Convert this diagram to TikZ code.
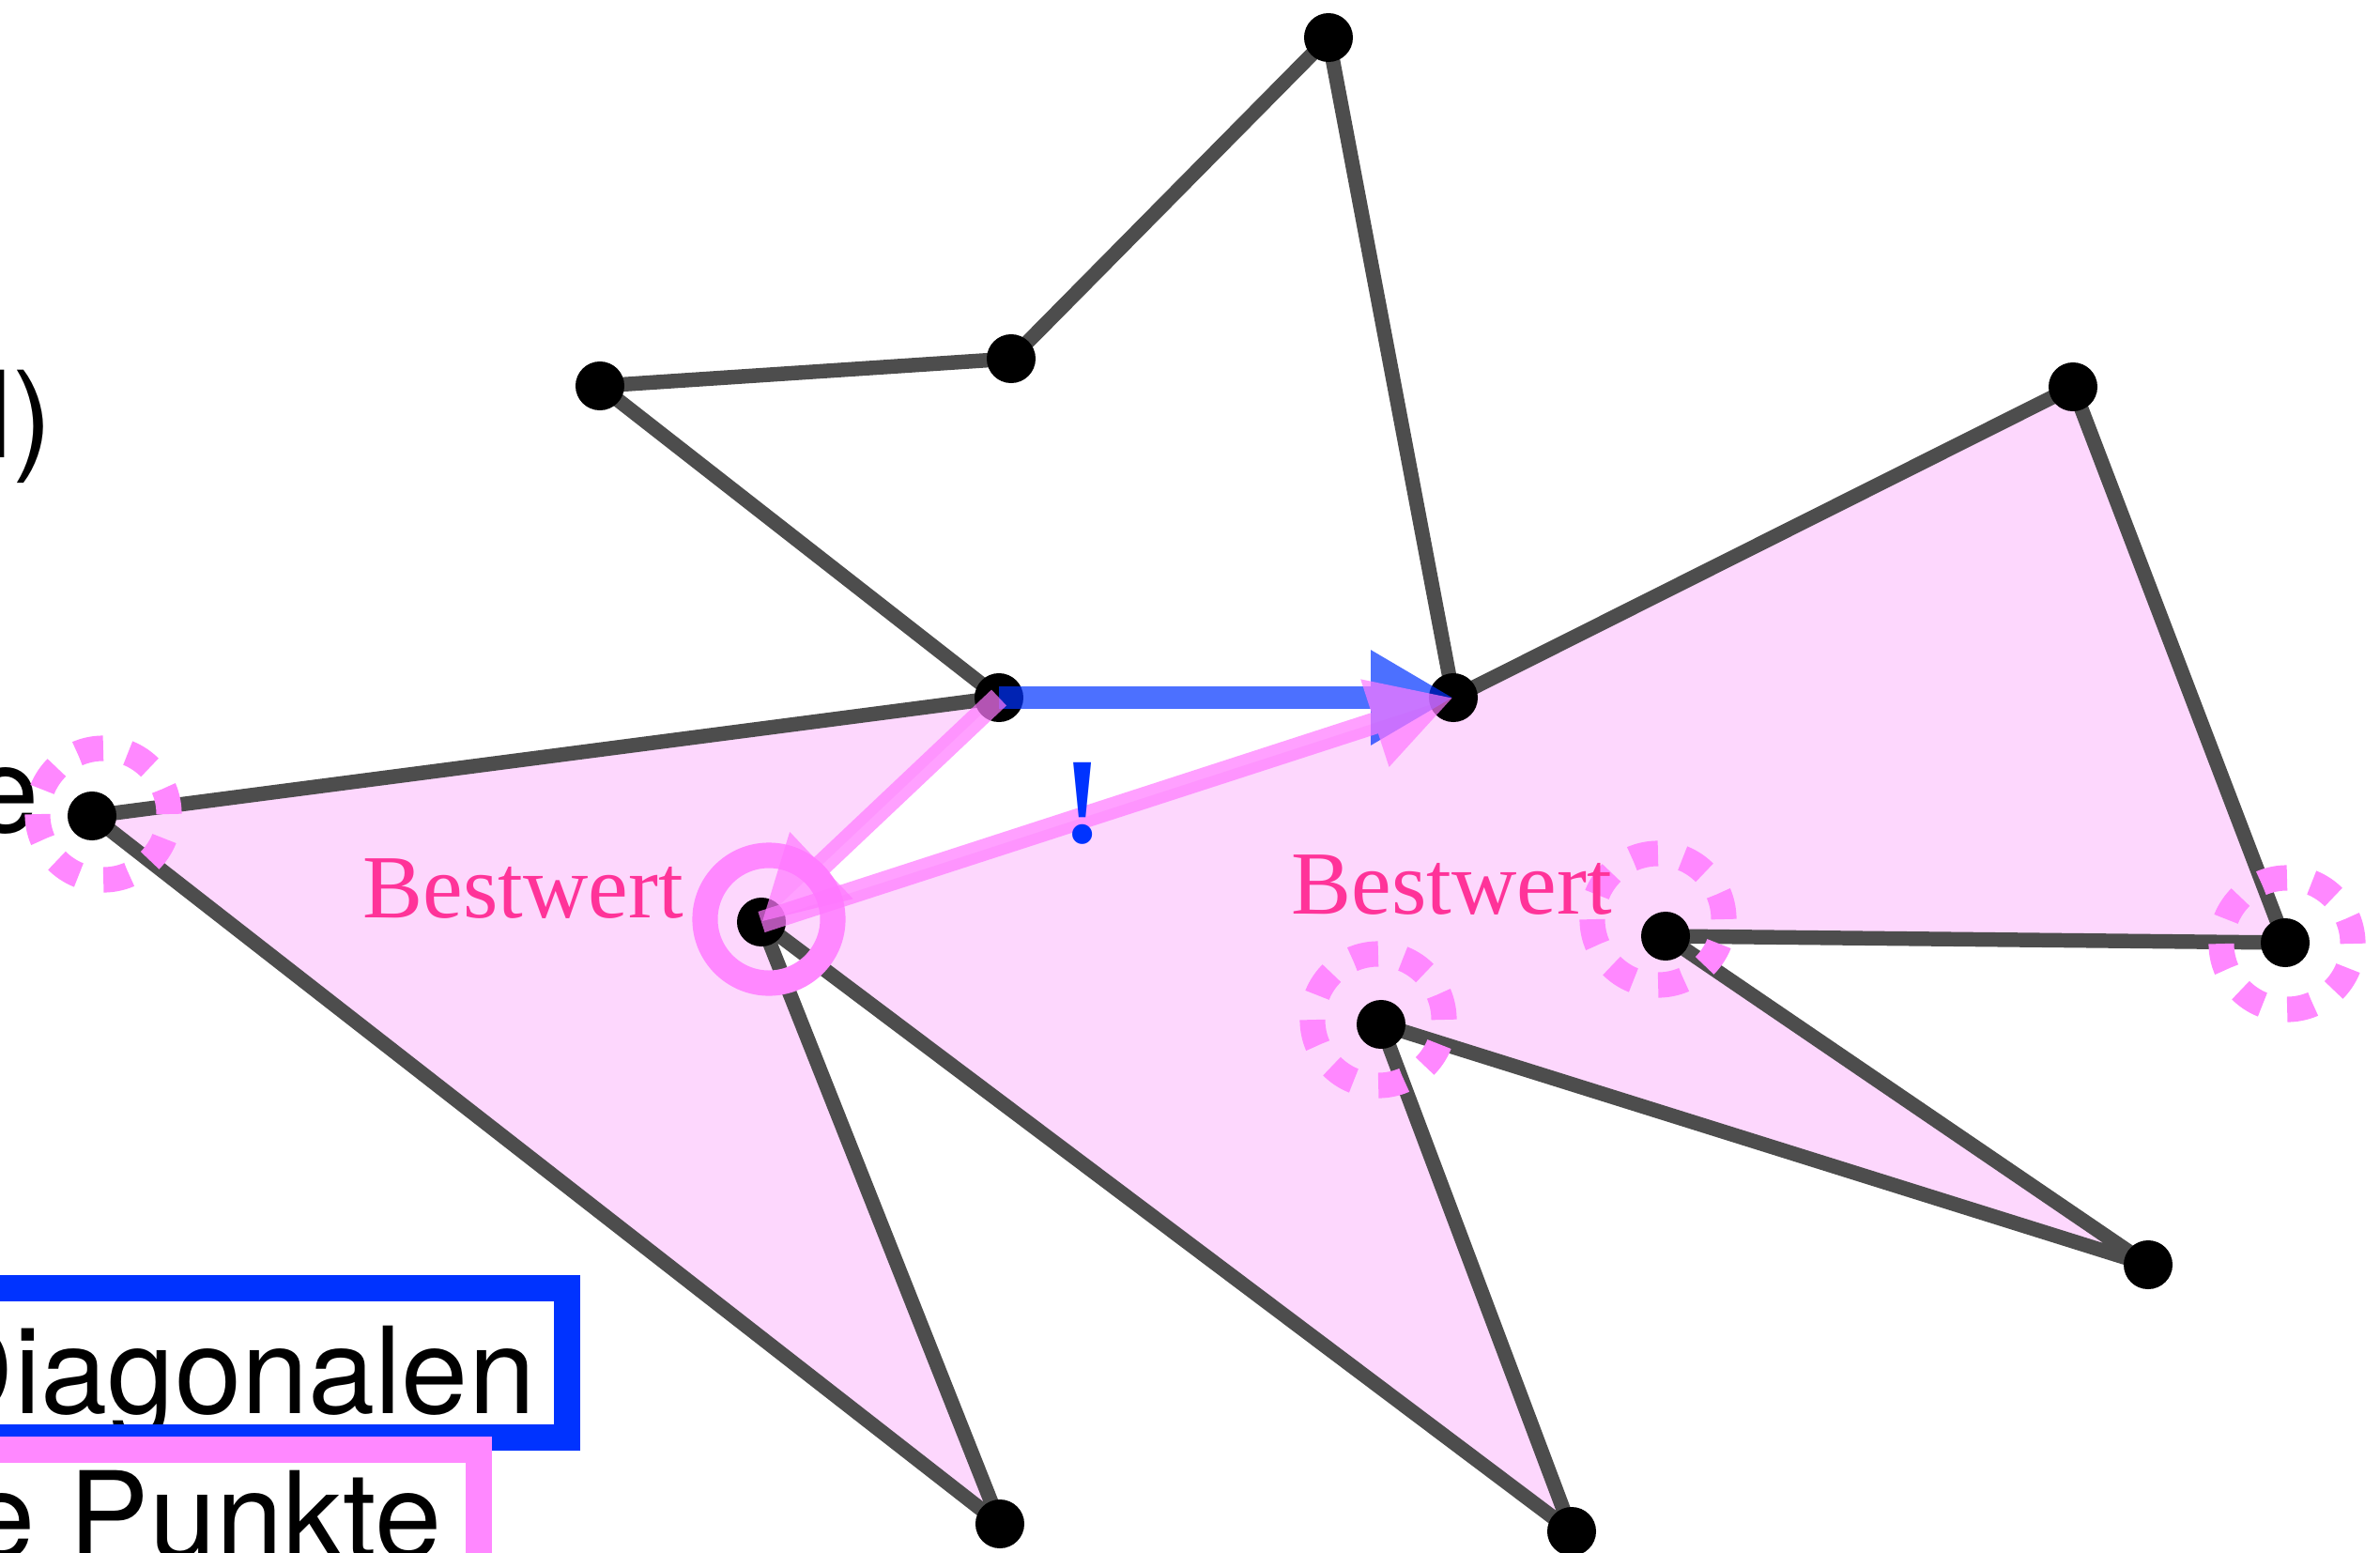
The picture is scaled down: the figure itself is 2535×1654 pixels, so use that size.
\documentclass[tikz,border=0pt]{standalone}
\usepackage{fontspec}
\setmainfont{Liberation Serif}
\setsansfont{TeX Gyre Heros}
\usetikzlibrary{arrows.meta}
\definecolor{EdgeGray}{HTML}{4D4D4D}
\definecolor{AreaPink}{HTML}{FDD7FD}
\definecolor{RingPink}{HTML}{FF88FF}
\definecolor{LabelPink}{HTML}{FF3399}
\definecolor{DiagBlue}{HTML}{0033FF}
\definecolor{ArrowPink}{HTML}{FF78FF}

\begin{document}
\begin{tikzpicture}[x=0.01cm, y=-0.01cm,
    edge/.style={EdgeGray, line width=4.4pt, line join=round},
    ring/.style={RingPink, line width=7.7pt},
    dashring/.style={ring, dash pattern=on 8pt off 7.65pt},
    bluevec/.style={DiagBlue, line width=6.8pt, -{Triangle[length=25pt,width=27pt]}},
    pinkvec/.style={ArrowPink, line width=6.6pt, -{Triangle[length=25pt,width=26pt]}},
    bestlabel/.style={LabelPink, font=\fontsize{27.3}{30}\selectfont, inner sep=0pt, anchor=base west},
    slidetext/.style={font=\sffamily\fontsize{36.4}{40}\selectfont, inner sep=0pt, anchor=base east}]

    \useasboundingbox (0,0) rectangle (2535,1654);
    \clip (0,0) rectangle (2535,1654);

    % Slide text (cut off at the left)
    \node[slidetext] (t1) at (57,487) {l)};
    \node[slidetext] (t2) at (42,886) {e};
    \node[slidetext] (t3) at (571,1505) {Diagonalen};
    \node[slidetext] (t4) at (471,1659) {e Punkte};
    \draw[DiagBlue, line width=7.7pt] (-60,1372) rectangle (604,1531);
    \draw[RingPink, line width=7.7pt] (-60,1544) rectangle (510,1760);

    % Polygon vertices
    \coordinate (A) at (1415,40);
    \coordinate (B) at (1077,382);
    \coordinate (C) at (639,411);
    \coordinate (D) at (1064,743);
    \coordinate (E) at (1548,743);
    \coordinate (F) at (2208,412);
    \coordinate (G) at (2434,1004);
    \coordinate (H) at (1774,997);
    \coordinate (I) at (2288,1347);
    \coordinate (J) at (1471,1091);
    \coordinate (K) at (1674,1631);
    \coordinate (L) at (811,982);
    \coordinate (M) at (1065,1623);
    \coordinate (N) at (98,869);

    % Cut-off ears
    \fill[AreaPink] (N) -- (D) -- (L) -- (M) -- cycle;
    \fill[AreaPink] (L) -- (E) -- (F) -- (G) -- (H) -- (I) -- (J) -- (K) -- cycle;

    % Edges
    \draw[edge] (A) -- (B) -- (C) -- (D) -- (N) -- (M) -- (L) -- (K) -- (J)
        -- (I) -- (H) -- (G) -- (F) -- (E) -- cycle;
    \foreach \p in {A,B,C,D,E,F,G,H,I,J,K,L,M,N}
        \fill (\p) circle (0.26cm);

    % Candidate rings
    \draw[dashring] (110,867) circle (0.7cm);
    \draw[dashring] (1766,979) circle (0.7cm);
    \draw[dashring] (1468,1086) circle (0.7cm);
    \draw[dashring] (2436,1005) circle (0.7cm);
    \draw[ring] (819,979) circle (0.68cm);

    % Diagonals
    \begin{scope}[transparency group, opacity=0.7]
        \draw[bluevec] (D) -- (E);
    \end{scope}
    \begin{scope}[transparency group, opacity=0.7]
        \draw[pinkvec] (D) -- (L);
    \end{scope}
    \begin{scope}[transparency group, opacity=0.7]
        \draw[pinkvec] (L) -- (E);
    \end{scope}

    % Labels
    \node[bestlabel] (best1) at (386,977) {Bestwert};
    \node[bestlabel] (best2) at (1375,973) {Bestwert};
    \node[DiagBlue, font=\bfseries\fontsize{37}{40}\selectfont, inner sep=0pt, anchor=base] (hint) at (1153,897) {!};

\end{tikzpicture}
\end{document}
